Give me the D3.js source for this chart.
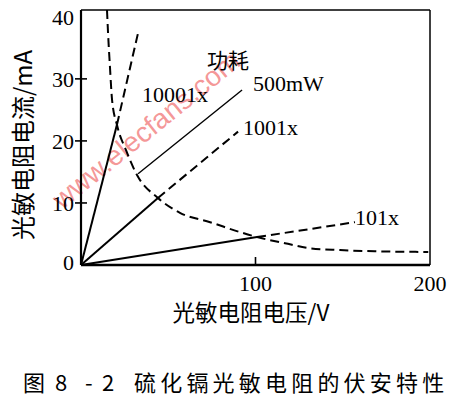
<!DOCTYPE html>
<html>
<head>
<meta charset="utf-8">
<script src="https://cdn.jsdelivr.net/npm/d3@7"></script>
<style>
  body { margin: 0; background: #fff; }
</style>
</head>
<body>
<svg id="chart" width="463" height="399"></svg>
<script>
// tick values
const xTicks = [100, 200];
const yTicks = [0, 10, 20, 30, 40];

// 500 mW power dissipation curve (V, mA)
const powerV = [14.9, 15.5, 16.6, 17.8, 20.6, 25.8, 32.1, 44.1, 56.7, 74, 91.1, 100.9, 116.9, 131.2, 148.4, 171, 199];
const powerI = [41.1, 37.4, 31.9, 26.6, 22.6, 18.5, 14.5, 10.8, 8.4, 6.9, 5.3, 4.5, 3.5, 2.7, 2.4, 2.2, 2.1];

// illuminance lines: solid up to the power curve, dashed beyond
const luxLabels = ["10001x", "1001x", "101x"];
const solidEndV = [20.6, 44.1, 100.9];
const solidEndI = [22.6, 10.8, 4.5];
const dashEndV = [32.7, 90, 157];
const dashEndI = [37.4, 21.5, 6.9];

// leader line from the "功耗 500mW" label to the curve
const leaderV = [32.7, 92.3];
const leaderI = [14.7, 28.2];

const svg = d3.select("#chart");

const x = d3.scaleLinear().domain([0, 200]).range([81, 430]);
const y = d3.scaleLinear().domain([0, 41.1]).range([265, 10]);

const serif = "'Liberation Serif', 'Times New Roman', serif";
const cjk = "'Noto Sans CJK SC', sans-serif";

// watermark
svg.append("text")
    .attr("transform", "translate(146,130) rotate(-39)")
    .attr("text-anchor", "middle")
    .attr("dominant-baseline", "central")
    .attr("font-family", "'Liberation Sans', Arial, sans-serif")
    .attr("font-size", 28)
    .attr("fill", "#f06a6a")
    .attr("fill-opacity", 0.7)
    .text("www.elecfans.com");

// frame
svg.append("line").attr("x1", x(0)).attr("x2", x(200)).attr("y1", y.range()[1]).attr("y2", y.range()[1])
    .attr("stroke", "#000").attr("stroke-width", 1.5);
svg.append("line").attr("x1", x(200)).attr("x2", x(200)).attr("y1", y.range()[1]).attr("y2", y(0))
    .attr("stroke", "#000").attr("stroke-width", 1.5);
svg.append("line").attr("x1", x(0)).attr("x2", x(0)).attr("y1", y.range()[1]).attr("y2", y(0))
    .attr("stroke", "#000").attr("stroke-width", 2.2);
svg.append("line").attr("x1", x(0)).attr("x2", x(200)).attr("y1", y(0)).attr("y2", y(0))
    .attr("stroke", "#000").attr("stroke-width", 2.5);

// y ticks
const yt = svg.append("g");
yt.selectAll("line").data(yTicks.filter(d => d > 0 && d < 40)).enter().append("line")
    .attr("x1", x(0) - 6).attr("x2", x(0) + 6)
    .attr("y1", d => y(d)).attr("y2", d => y(d))
    .attr("stroke", "#000").attr("stroke-width", 1.6);
yt.selectAll("text").data(yTicks).enter().append("text")
    .attr("x", 74)
    .attr("y", d => y(d) + (d === 0 ? 5 : 8))
    .attr("text-anchor", "end")
    .attr("font-family", serif)
    .attr("font-size", 22)
    .text(d => d);

// x ticks
const xt = svg.append("g");
xt.selectAll("line").data(xTicks.filter(d => d < 200)).enter().append("line")
    .attr("x1", d => x(d)).attr("x2", d => x(d))
    .attr("y1", y(0)).attr("y2", y(0) - 8)
    .attr("stroke", "#000").attr("stroke-width", 1.6);
xt.selectAll("text").data(xTicks).enter().append("text")
    .attr("x", d => x(d))
    .attr("y", 291)
    .attr("text-anchor", "middle")
    .attr("font-family", serif)
    .attr("font-size", 22)
    .text(d => d);

// power curve
const powerPts = powerV.map((v, i) => [v, powerI[i]]);
const line = d3.line().x(d => x(d[0])).y(d => y(d[1]));
svg.append("path")
    .attr("d", line.curve(d3.curveMonotoneX)(powerPts))
    .attr("fill", "none")
    .attr("stroke", "#000")
    .attr("stroke-width", 2)
    .attr("stroke-dasharray", "9,5");

const straight = d3.line().x(d => x(d[0])).y(d => y(d[1]));

// illuminance lines
luxLabels.forEach((lab, i) => {
    svg.append("path")
        .attr("d", straight([[0, 0], [solidEndV[i], solidEndI[i]]]))
        .attr("fill", "none")
        .attr("stroke", "#000")
        .attr("stroke-width", 2);
    svg.append("path")
        .attr("d", straight([[solidEndV[i], solidEndI[i]], [dashEndV[i], dashEndI[i]]]))
        .attr("fill", "none")
        .attr("stroke", "#000")
        .attr("stroke-width", 2)
        .attr("stroke-dasharray", "9,5");
});

// leader line
svg.append("path")
    .attr("d", straight(leaderV.map((v, i) => [v, leaderI[i]])))
    .attr("fill", "none")
    .attr("stroke", "#000")
    .attr("stroke-width", 1.4);

// curve labels
const labelPos = [[142, 102], [243, 135], [355, 225]];
luxLabels.forEach((lab, i) => {
    svg.append("text")
        .attr("x", labelPos[i][0])
        .attr("y", labelPos[i][1])
        .attr("font-family", serif)
        .attr("font-size", 22)
        .text(lab);
});
svg.append("text")
    .attr("x", 253).attr("y", 91)
    .attr("font-family", serif)
    .attr("font-size", 22)
    .text("500mW");
svg.append("text")
    .attr("x", 207).attr("y", 68)
    .attr("font-family", cjk)
    .attr("font-size", 21)
    .text("功耗");

// axis titles
svg.append("text")
    .attr("transform", "translate(21,145) rotate(-90)")
    .attr("text-anchor", "middle")
    .attr("dominant-baseline", "central")
    .attr("font-family", cjk)
    .attr("font-size", 24)
    .text("光敏电阻电流/mA");
svg.append("text")
    .attr("x", 251).attr("y", 321)
    .attr("text-anchor", "middle")
    .attr("font-family", cjk)
    .attr("font-size", 22.5)
    .text("光敏电阻电压/V");

// caption
const cap = svg.append("text")
    .attr("y", 391)
    .attr("font-family", cjk)
    .attr("font-size", 22);
cap.append("tspan").attr("x", 23).text("图");
cap.append("tspan").attr("x", 55).text("8");
cap.append("tspan").attr("x", 85).text("-");
cap.append("tspan").attr("x", 102).text("2");
cap.append("tspan").attr("x", 134).attr("letter-spacing", 4.2).text("硫化镉光敏电阻的伏安特性");
</script>
</body>
</html>
